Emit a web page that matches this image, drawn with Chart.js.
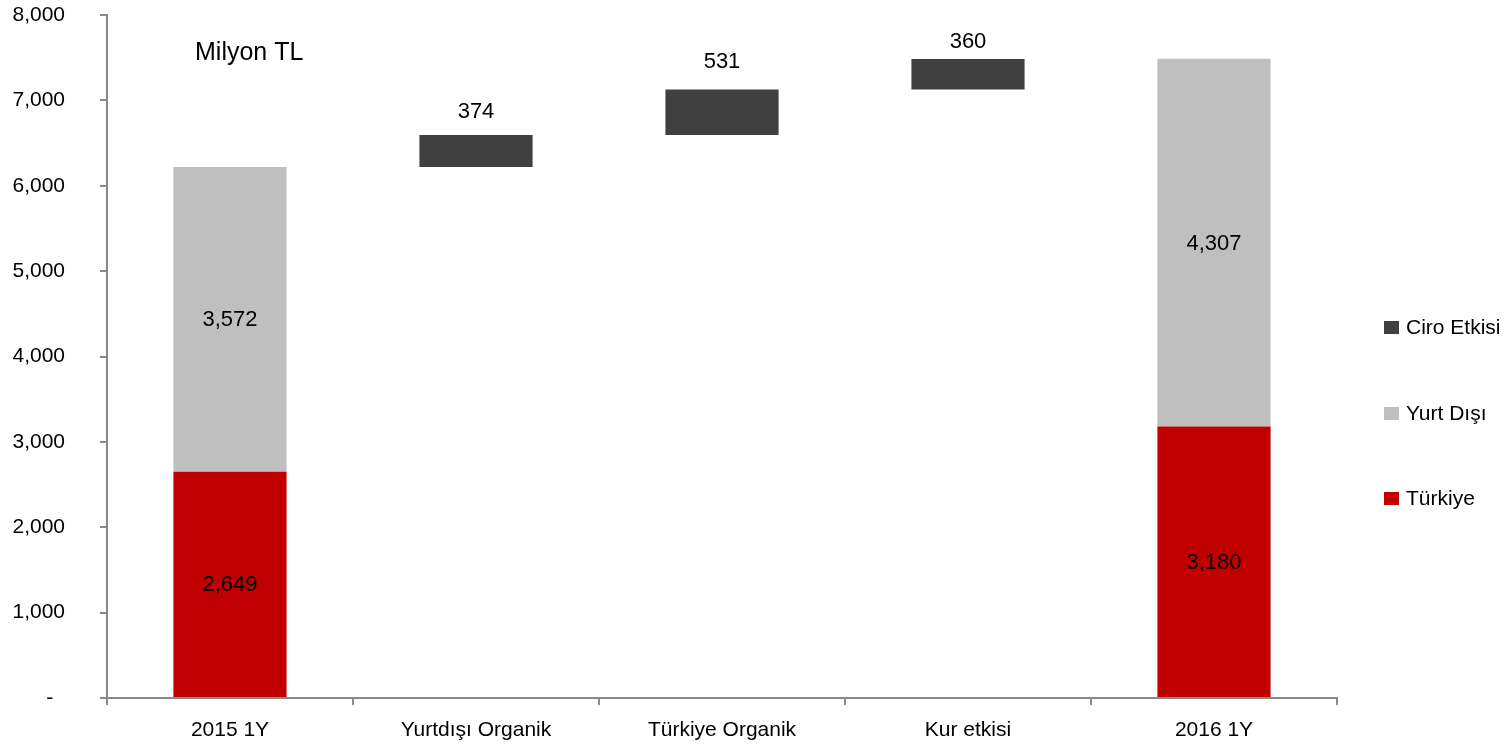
<!DOCTYPE html>
<html>
<head>
<meta charset="utf-8">
<script src="https://cdn.jsdelivr.net/npm/chart.js@4.4.1/dist/chart.umd.min.js"></script>
<style>
  html, body { margin: 0; padding: 0; background: #fff; }
  #wrap { width: 1509px; height: 747px; }
</style>
</head>
<body>
<div id="wrap"><canvas id="ciroChart"></canvas></div>
<script>
// Ciro köprüsü 2015 1Y -> 2016 1Y (Milyon TL)
const categories = ['2015 1Y', 'Yurtdışı Organik', 'Türkiye Organik', 'Kur etkisi', '2016 1Y'];
const turkiye = [2649, null, null, null, 3180];
const yurtDisi = [3572, null, null, null, 4307];
const ciroEtkisi = [null, 374, 531, 360, null];
const yTicks = [0, 1000, 2000, 3000, 4000, 5000, 6000, 7000, 8000];

const FONT = "'Liberation Sans', Arial, sans-serif";
const colors = { turkiye: '#c00000', yurtDisi: '#bfbfbf', ciro: '#404040', axis: '#898989' };

// floating bars start where the previous total ends
let running = (turkiye[0] || 0) + (yurtDisi[0] || 0);
const ciroRanges = ciroEtkisi.map(v => {
  if (v == null) return null;
  const r = [running, running + v];
  running += v;
  return r;
});

// gap between a floating bar and its label, per category (labels were hand placed)
const labelGap = [0, 23, 28, 17, 0];

const valueLabels = {
  id: 'valueLabels',
  afterDatasetsDraw(chart) {
    const ctx = chart.ctx;
    ctx.save();
    ctx.font = '22px ' + FONT;
    ctx.fillStyle = '#000';
    ctx.textAlign = 'center';
    ctx.textBaseline = 'middle';
    chart.data.datasets.forEach((ds, di) => {
      const meta = chart.getDatasetMeta(di);
      meta.data.forEach((bar, i) => {
        const raw = ds.raw[i];
        if (raw == null) return;
        const txt = raw.toLocaleString('en-US');
        if (ds.floating) {
          const top = Math.min(bar.y, bar.base);
          ctx.fillText(txt, bar.x, top - labelGap[i]);
        } else {
          ctx.fillText(txt, bar.x, (bar.y + bar.base) / 2 + 1);
        }
      });
    });
    ctx.restore();
  }
};

const unitTitle = {
  id: 'unitTitle',
  afterDraw(chart) {
    const ctx = chart.ctx;
    ctx.save();
    ctx.font = '25px ' + FONT;
    ctx.fillStyle = '#000';
    ctx.textAlign = 'left';
    ctx.textBaseline = 'alphabetic';
    ctx.fillText('Milyon TL', chart.chartArea.left + 88, 60);
    ctx.restore();
  }
};

const sideLegend = {
  id: 'sideLegend',
  afterDraw(chart) {
    const ctx = chart.ctx;
    const order = [2, 1, 0];
    const x = chart.chartArea.right + 47;
    const ys = [327, 413, 498];
    ctx.save();
    ctx.font = '21px ' + FONT;
    ctx.textAlign = 'left';
    ctx.textBaseline = 'middle';
    order.forEach((di, k) => {
      const ds = chart.data.datasets[di];
      ctx.fillStyle = ds.backgroundColor;
      ctx.fillRect(x, ys[k] - 6, 15, 13);
      ctx.fillStyle = '#000';
      ctx.fillText(ds.label, x + 22, ys[k] + 1);
    });
    ctx.restore();
  }
};

new Chart(document.getElementById('ciroChart'), {
  type: 'bar',
  data: {
    labels: categories,
    datasets: [
      { label: 'Türkiye', data: turkiye, raw: turkiye, backgroundColor: colors.turkiye, stack: 's' },
      { label: 'Yurt Dışı', data: yurtDisi, raw: yurtDisi, backgroundColor: colors.yurtDisi, stack: 's' },
      { label: 'Ciro Etkisi', data: ciroRanges, raw: ciroEtkisi, floating: true, backgroundColor: colors.ciro, stack: 's' }
    ]
  },
  options: {
    responsive: true,
    maintainAspectRatio: false,
    animation: false,
    layout: { autoPadding: false, padding: { top: 15, right: 172, left: 0, bottom: 0 } },
    datasets: { bar: { barPercentage: 1, categoryPercentage: 0.46 } },
    plugins: {
      legend: { display: false },
      tooltip: { enabled: false }
    },
    scales: {
      x: {
        stacked: true,
        grid: { drawOnChartArea: false, drawTicks: true, tickLength: 7, color: colors.axis, lineWidth: 2 },
        border: { color: colors.axis, width: 2 },
        ticks: { color: '#000', font: { family: FONT, size: 21 }, padding: 13, maxRotation: 0 },
        afterFit(scale) {
          scale.height = 49;
          scale.paddingLeft = 0;
          scale.paddingRight = 0;
        }
      },
      y: {
        stacked: true,
        min: 0,
        max: 8000,
        afterBuildTicks(scale) { scale.ticks = yTicks.map(v => ({ value: v })); },
        grid: { drawOnChartArea: false, drawTicks: true, tickLength: 7, color: colors.axis, lineWidth: 2 },
        border: { color: colors.axis, width: 2 },
        ticks: {
          color: '#000',
          font: { family: FONT, size: 21 },
          padding: 35,
          callback: v => v === 0 ? '-  ' : v.toLocaleString('en-US')
        },
        afterFit(scale) {
          scale.width = 107;
          scale.paddingTop = 0;
          scale.paddingBottom = 0;
        }
      }
    }
  },
  plugins: [valueLabels, unitTitle, sideLegend]
});
</script>
</body>
</html>
